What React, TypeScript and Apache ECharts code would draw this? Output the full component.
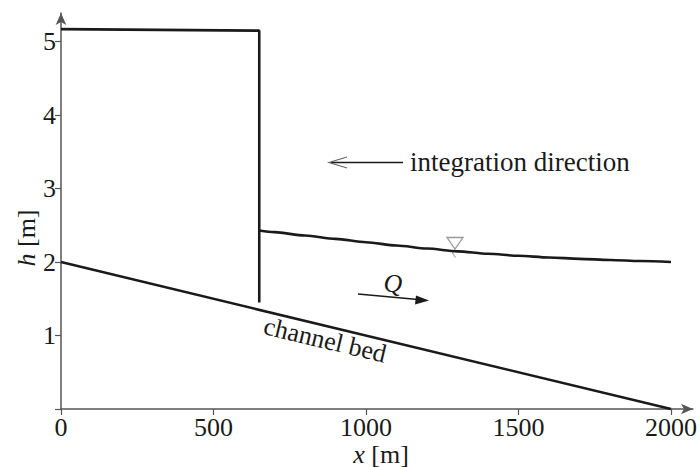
import React, { useEffect, useRef } from "react";
import * as echarts from "echarts";

const upstreamX = [0, 650, 650];
const upstreamH = [5.17, 5.15, 1.45];
const surfaceX = [650, 700, 800, 900, 1000, 1100, 1200, 1300, 1400, 1500, 1600, 1700, 1800, 1900, 2000];
const surfaceH = [2.43, 2.407, 2.361, 2.315, 2.27, 2.226, 2.184, 2.146, 2.113, 2.085, 2.062, 2.044, 2.029, 2.015, 2.0];
const bedX = [0, 2000];
const bedH = [2, 0];
const xTicks = [0, 500, 1000, 1500, 2000];
const yTicks = [1, 2, 3, 4, 5];

const FONT = "'Liberation Serif', 'DejaVu Serif', serif";
const INK = "#1a1a1a";

export default function App() {
  const ref = useRef<HTMLDivElement>(null);
  useEffect(() => {
    if (!ref.current) return;
    const chart = echarts.init(ref.current, null, { renderer: "svg" });
    const pair = (xs: number[], ys: number[]) => xs.map((x, i) => [x, ys[i]]);
    const lineStyle = { color: INK, width: 2.6 };
    chart.setOption({
      animation: false,
      backgroundColor: "#ffffff",
      grid: { left: 61, right: 3, top: 13, bottom: 58, containLabel: false },
      xAxis: {
        type: "value",
        min: 0,
        max: 2072,
        interval: 500,
        splitLine: { show: false },
        axisLine: {
          show: true,
          onZero: false,
          symbol: ["none", "arrow"],
          symbolSize: [8, 12],
          lineStyle: { color: "#555", width: 1.5 },
        },
        axisTick: { show: true, inside: false, length: 6, lineStyle: { color: "#555", width: 1.2 } },
        axisLabel: {
          fontFamily: FONT,
          fontSize: 26,
          color: INK,
          margin: 5,
          showMaxLabel: false,
          formatter: (v: number) => (xTicks.includes(v) ? String(v) : ""),
        },
      },
      yAxis: {
        type: "value",
        min: 0,
        max: 5.39,
        interval: 1,
        splitLine: { show: false },
        axisLine: {
          show: true,
          onZero: false,
          symbol: ["none", "arrow"],
          symbolSize: [8, 12],
          lineStyle: { color: "#555", width: 1.5 },
        },
        axisTick: { show: true, inside: false, length: 6, lineStyle: { color: "#555", width: 1.2 } },
        axisLabel: {
          fontFamily: FONT,
          fontSize: 26,
          color: INK,
          margin: 5,
          showMaxLabel: false,
          formatter: (v: number) => (yTicks.includes(v) ? String(v) : ""),
        },
      },
      series: [
        { type: "line", data: pair(upstreamX, upstreamH), showSymbol: false, lineStyle, silent: true },
        {
          type: "line",
          data: pair(surfaceX, surfaceH),
          showSymbol: false,
          smooth: 0.3,
          smoothMonotone: "x",
          lineStyle,
          silent: true,
        },
        { type: "line", data: pair(bedX, bedH), showSymbol: false, lineStyle, silent: true },
      ],
      graphic: [
        {
          type: "text",
          x: 410,
          y: 162,
          style: { text: "integration direction", font: `27px ${FONT}`, fill: INK, textVerticalAlign: "middle" },
        },
        { type: "line", shape: { x1: 403, y1: 162.5, x2: 331, y2: 162.5 }, style: { stroke: INK, lineWidth: 1.6 } },
        {
          type: "polyline",
          shape: { points: [[347, 157], [329, 162.5], [347, 168]] },
          style: { stroke: "#666", lineWidth: 1.2, fill: null },
        },
        {
          type: "text",
          x: 393,
          y: 283,
          style: { text: "Q", font: `italic 26px ${FONT}`, fill: INK, textAlign: "center", textVerticalAlign: "middle" },
        },
        { type: "line", shape: { x1: 358, y1: 294, x2: 418, y2: 299.5 }, style: { stroke: INK, lineWidth: 1.6 } },
        {
          type: "polygon",
          shape: { points: [[429, 300.6], [416, 295.5], [415, 304.5]] },
          style: { fill: INK },
        },
        {
          type: "text",
          x: 325,
          y: 340,
          rotation: -13.4 * Math.PI / 180,
          style: { text: "channel bed", font: `26px ${FONT}`, fill: INK, textAlign: "center", textVerticalAlign: "middle" },
        },
        {
          type: "polygon",
          shape: { points: [[447, 237.5], [463, 237.5], [455, 249]] },
          style: { fill: "none", stroke: "#999", lineWidth: 1.3 },
        },
        {
          type: "polyline",
          shape: { points: [[455, 249], [452.5, 253], [455.5, 257.5]] },
          style: { fill: null, stroke: "#aaa", lineWidth: 1.2 },
        },
        {
          type: "text",
          x: 26,
          y: 238,
          rotation: Math.PI / 2,
          style: {
            text: "{i|h} [m]",
            font: `26px ${FONT}`,
            fill: INK,
            textAlign: "center",
            textVerticalAlign: "middle",
            rich: { i: { fontStyle: "italic", fontFamily: FONT, fontSize: 26, fill: INK } },
          },
        },
        {
          type: "text",
          x: 381,
          y: 454,
          style: {
            text: "{i|x} [m]",
            font: `26px ${FONT}`,
            fill: INK,
            textAlign: "center",
            textVerticalAlign: "middle",
            rich: { i: { fontStyle: "italic", fontFamily: FONT, fontSize: 26, fill: INK } },
          },
        },
      ],
    });
    return () => chart.dispose();
  }, []);
  return <div ref={ref} style={{ width: 700, height: 467, position: "absolute", left: 0, top: 0 }} />;
}
